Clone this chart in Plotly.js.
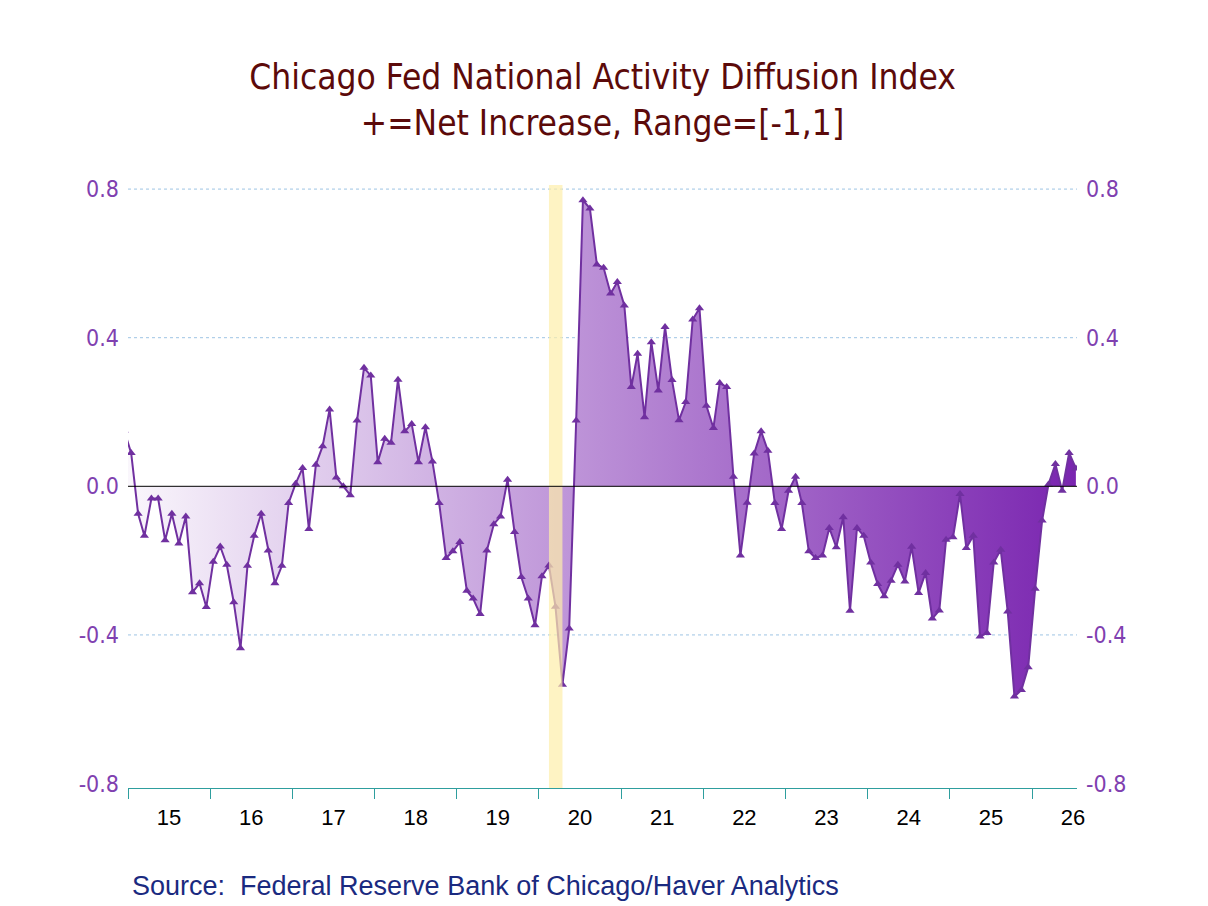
<!DOCTYPE html>
<html>
<head>
<meta charset="utf-8">
<script src="https://cdn.plot.ly/plotly-3.0.1.min.js"></script>
<style>
  body { margin: 0; background: #fff; }
  #myDiv { width: 1208px; height: 906px; }
</style>
</head>
<body>
<div id="myDiv"></div>
<script>
// monthly index, first value is Dec 2014 (clipped at the left edge)
var firstYear = 2014, firstMonth = 12;
var values = [
  0.15,
  0.09, -0.074, -0.133, -0.033, -0.033, -0.145, -0.074, -0.154, -0.081, -0.285, -0.261, -0.325,
  -0.203, -0.162, -0.211, -0.312, -0.436, -0.214, -0.133, -0.074, -0.173, -0.261, -0.214, -0.045,
  0.007, 0.049, -0.115, 0.058, 0.108, 0.207, 0.024, 0.0, -0.024, 0.177, 0.319, 0.298,
  0.065, 0.128, 0.117, 0.287, 0.148, 0.168, 0.065, 0.159, 0.067, -0.045, -0.193, -0.175,
  -0.150, -0.281, -0.302, -0.344, -0.173, -0.102, -0.081, 0.018, -0.123, -0.244, -0.302, -0.374,
  -0.242, -0.213, -0.324, -0.534, -0.383, 0.177, 0.770, 0.748, 0.597, 0.588, 0.519, 0.550,
  0.487, 0.267, 0.357, 0.186, 0.388, 0.258, 0.429, 0.286, 0.178, 0.227, 0.449, 0.479,
  0.217, 0.157, 0.278, 0.267, 0.026, -0.186, -0.044, 0.088, 0.148, 0.096, -0.045, -0.115,
  -0.012, 0.026, -0.045, -0.175, -0.193, -0.186, -0.112, -0.164, -0.083, -0.335, -0.112, -0.133,
  -0.205, -0.263, -0.296, -0.254, -0.211, -0.256, -0.163, -0.287, -0.233, -0.356, -0.334, -0.144,
  -0.137, -0.021, -0.166, -0.133, -0.404, -0.395, -0.205, -0.171, -0.337, -0.566, -0.548, -0.487,
  -0.276, -0.092, 0.005, 0.060, -0.012, 0.090, 0.048
];
var recession = ['2020-02-15', '2020-04-15'];
var yTicks = [-0.8, -0.4, 0.0, 0.4, 0.8];
var yTickText = ['-0.8', '-0.4', '0.0', '0.4', '0.8'];
var gridLevels = [0.8, 0.4, -0.4];

var dates = [];
for (var i = 0; i < values.length; i++) {
  var m = firstMonth - 1 + i;
  var yr = firstYear + Math.floor(m / 12);
  var mo = (m % 12) + 1;
  dates.push(yr + '-' + (mo < 10 ? '0' + mo : mo) + '-15');
}

var purple = '#7030a0';
var labelPurple = '#8040b0';
var teal = '#2e9e9e';
var tahoma = 'Tahoma, "DejaVu Sans Condensed", "Liberation Sans", sans-serif';

var diffusion = {
  x: dates,
  y: values,
  type: 'scatter',
  mode: 'lines+markers',
  fill: 'tozeroy',
  fillgradient: {
    type: 'horizontal',
    colorscale: [[0, '#faf7fc'], [1, '#7a25b0']]
  },
  line: {color: purple, width: 2},
  marker: {symbol: 'triangle-up', size: 8, color: purple},
  hoverinfo: 'x+y',
  showlegend: false
};

// dummy trace so the right-hand axis is drawn
var rightAxis = {
  x: [dates[1]],
  y: [0],
  yaxis: 'y2',
  type: 'scatter',
  mode: 'markers',
  marker: {opacity: 0},
  hoverinfo: 'skip',
  showlegend: false
};

var yRange = [-0.812, 0.811];
var tickFont = {family: tahoma, size: 23, color: labelPurple};

var shapes = [];
gridLevels.forEach(function(g){
  shapes.push({
    type: 'line', xref: 'paper', yref: 'y',
    x0: 0, x1: 1, y0: g, y1: g,
    line: {color: '#9ec4e4', width: 1, dash: 'dot'},
    layer: 'below'
  });
});
shapes.push({
  type: 'rect', xref: 'x', yref: 'paper',
  x0: recession[0], x1: recession[1], y0: 0, y1: 1,
  fillcolor: '#fdeeaa', opacity: 0.7,
  line: {width: 0},
  layer: 'above'
});
shapes.push({
  type: 'line', xref: 'paper', yref: 'y',
  x0: 0, x1: 1, y0: 0, y1: 0,
  line: {color: '#000000', width: 1},
  layer: 'above'
});

var layout = {
  width: 1208,
  height: 906,
  margin: {l: 128, r: 131, t: 185, b: 118},
  paper_bgcolor: '#ffffff',
  plot_bgcolor: '#ffffff',
  title: {
    text: 'Chicago Fed National Activity Diffusion Index<br>+=Net Increase, Range=[-1,1]',
    font: {family: tahoma, size: 35, color: '#5c0a0a'},
    x: 0.5,
    xref: 'paper',
    y: 1 - 89 / 906,
    yref: 'container',
    yanchor: 'top'
  },
  xaxis: {
    type: 'date',
    range: ['2015-01-01', '2026-07-20'],
    tick0: '2015-01-01',
    dtick: 'M12',
    tickformat: '%y',
    ticklabelmode: 'period',
    ticks: 'outside',
    ticklen: 10,
    tickcolor: teal,
    tickwidth: 1,
    showline: true,
    linecolor: teal,
    linewidth: 1,
    showgrid: false,
    zeroline: false,
    tickfont: {family: '"Liberation Sans", Arial, sans-serif', size: 22, color: '#000000'}
  },
  yaxis: {
    range: yRange,
    tickvals: yTicks,
    ticktext: yTickText,
    ticks: '',
    ticklabelstandoff: 8,
    showline: false,
    showgrid: false,
    zeroline: false,
    tickfont: tickFont
  },
  yaxis2: {
    range: yRange,
    overlaying: 'y',
    side: 'right',
    tickvals: yTicks,
    ticktext: yTickText,
    ticks: '',
    ticklabelstandoff: 8,
    showline: false,
    showgrid: false,
    zeroline: false,
    tickfont: tickFont
  },
  shapes: shapes,
  annotations: [
    {
      text: 'Source:  Federal Reserve Bank of Chicago/Haver Analytics',
      xref: 'paper',
      yref: 'paper',
      x: 2 / 949,
      y: -98 / 603,
      xanchor: 'left',
      yanchor: 'middle',
      showarrow: false,
      font: {family: '"Liberation Sans", Arial, sans-serif', size: 27, color: '#1a2a80'}
    }
  ]
};

Plotly.newPlot('myDiv', [diffusion, rightAxis], layout, {displayModeBar: false, staticPlot: true});
</script>
</body>
</html>
